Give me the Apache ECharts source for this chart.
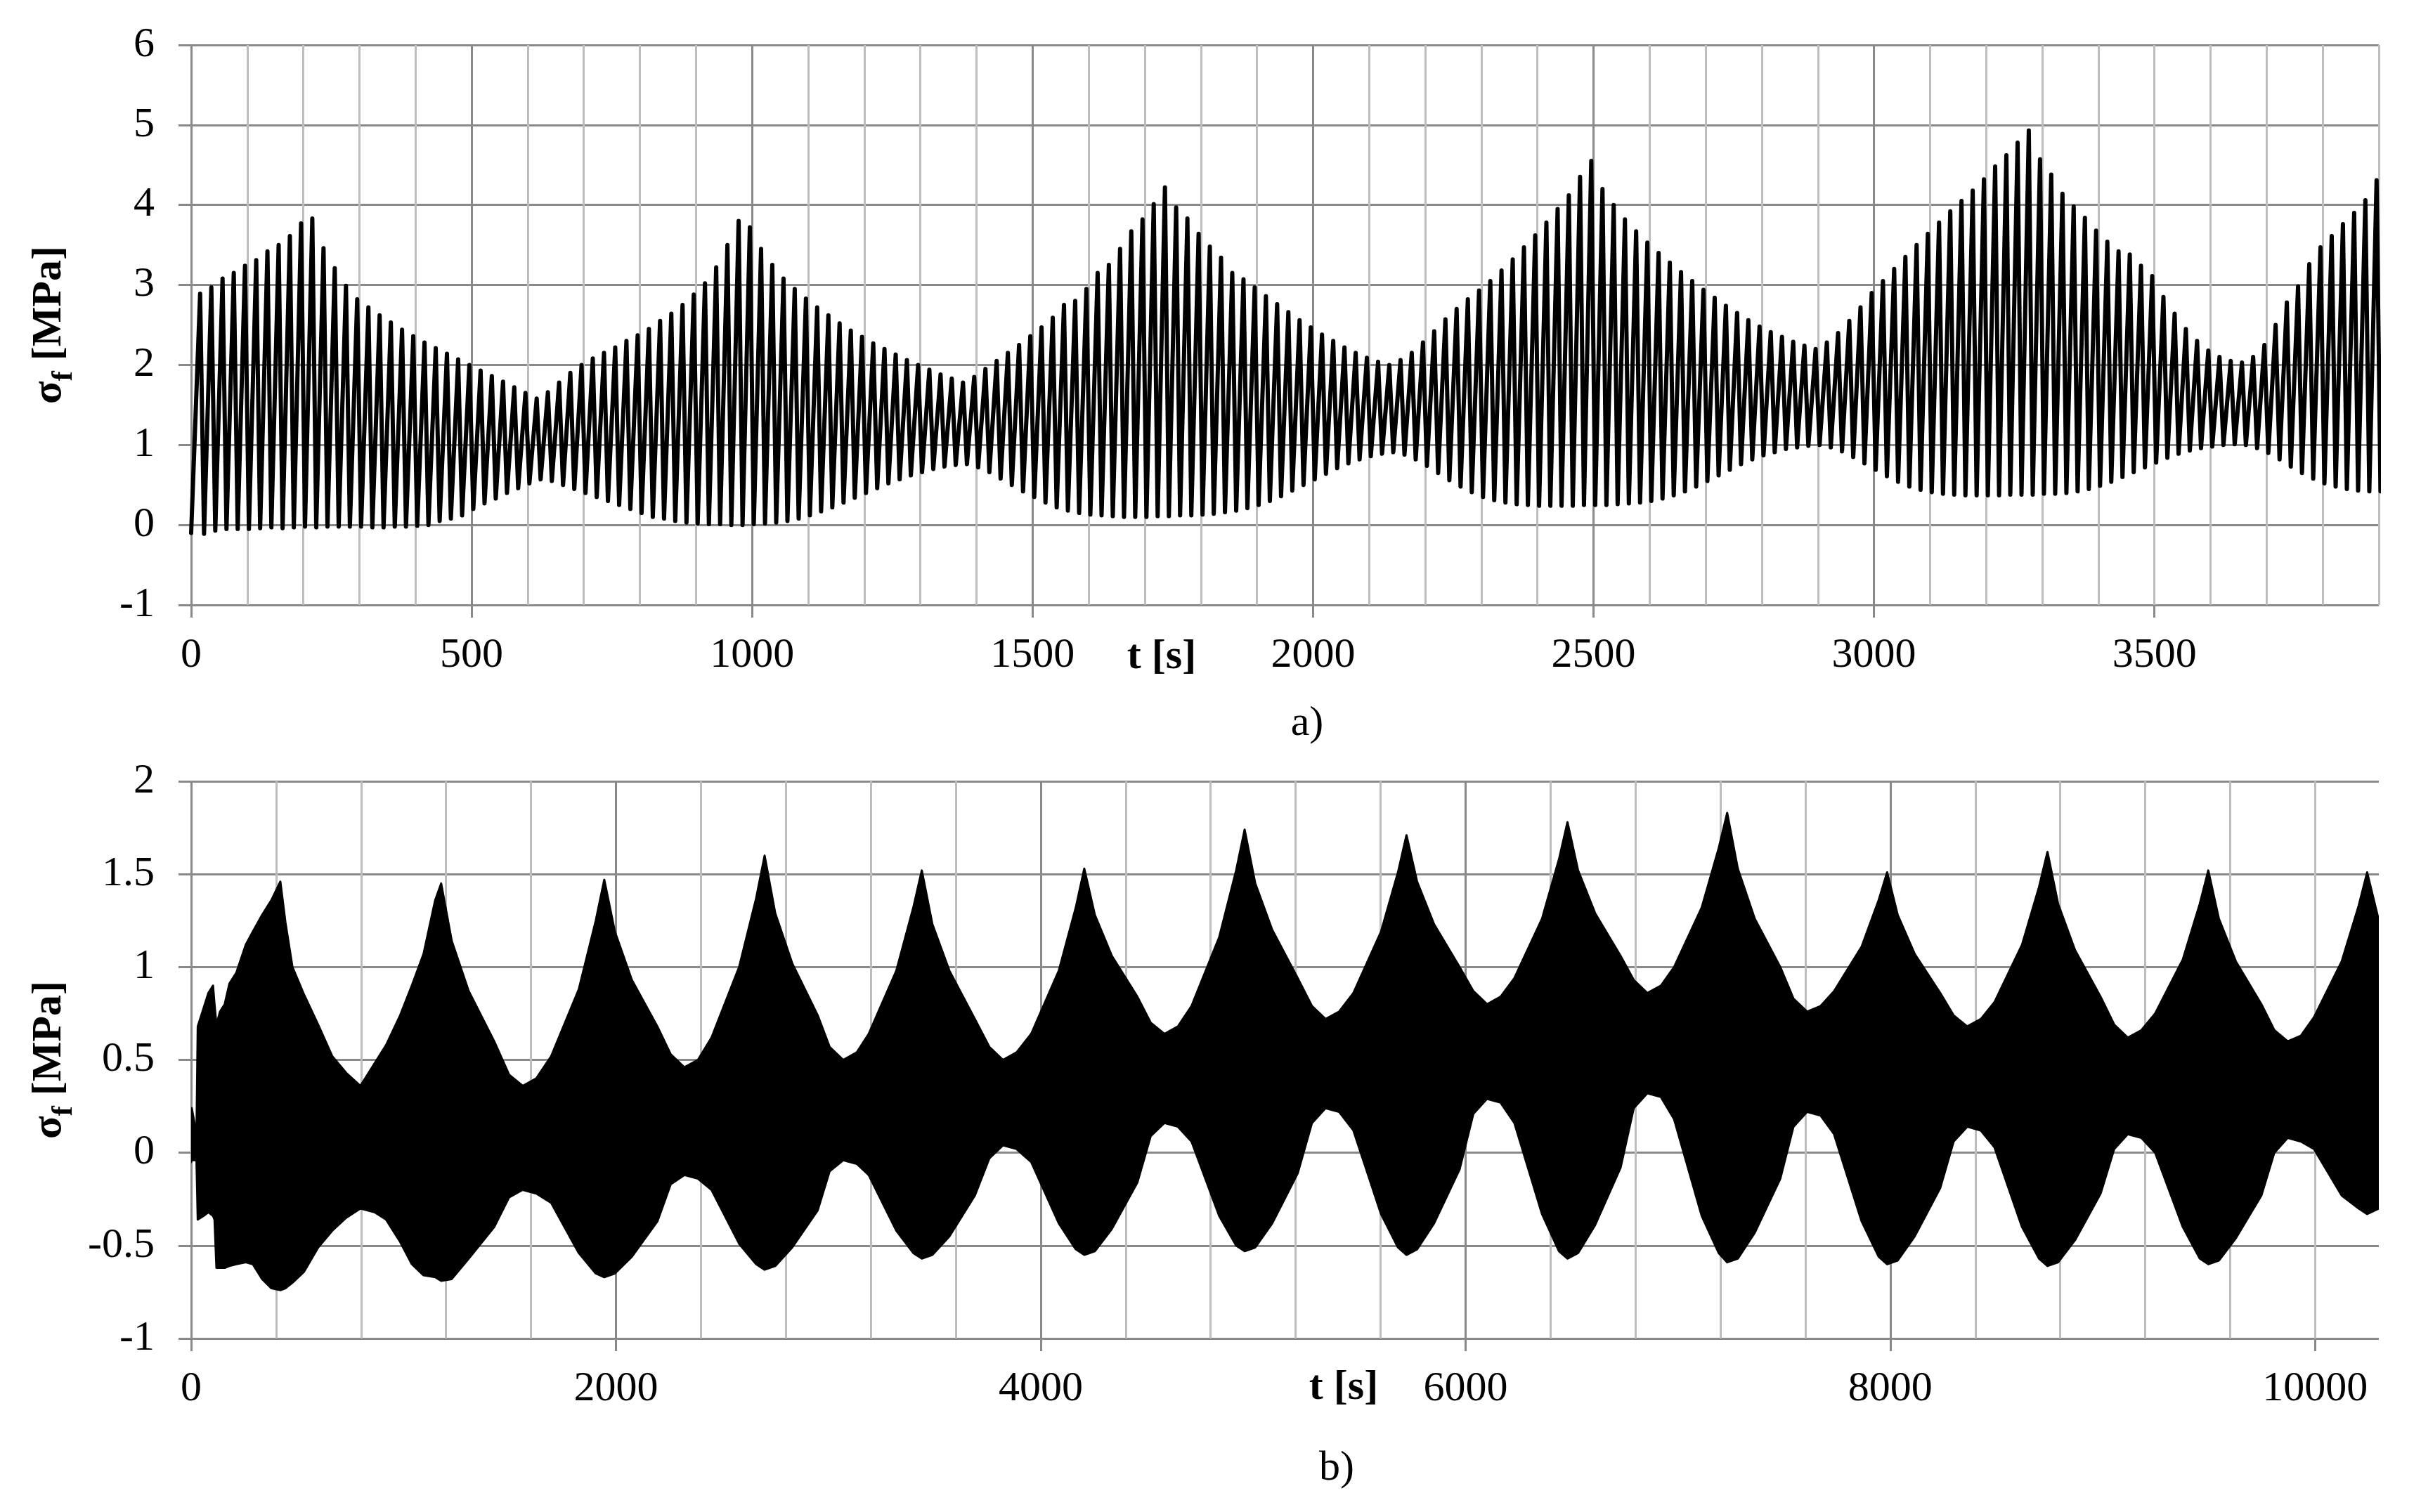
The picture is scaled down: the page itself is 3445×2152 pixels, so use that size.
<!DOCTYPE html>
<html><head><meta charset="utf-8">
<script src="https://cdn.jsdelivr.net/npm/echarts@6/dist/echarts.min.js"></script>
<style>html,body{margin:0;padding:0;background:#fff}#c{width:3445px;height:2152px}</style>
</head><body><div id="c"></div>
<script>
// ---------------- Panel a) : one peak and one trough per 20 s cycle ----------------
const A_T0 = 16;          // time of first peak [s]
const A_PERIOD = 20;      // cycle length [s]
const A_TROUGH_LAG = 7;   // trough follows peak by [s]
const aStart = [0, -0.10];
const aPeaks = [
  2.89,2.97,3.08,3.15,3.24,3.31,3.42,3.50,3.61,3.77,3.83,
  3.46,3.21,2.99,2.82,2.72,2.62,2.53,2.44,2.36,2.28,2.21,2.14,2.07,2.00,1.93,1.86,1.79,1.72,1.65,1.58,
  1.66,1.78,1.90,2.00,2.08,2.15,2.22,2.30,2.37,2.45,2.55,2.64,2.75,2.88,3.02,3.22,3.50,3.80,
  3.72,3.45,3.25,3.08,2.95,2.83,2.72,2.62,2.52,2.43,2.35,2.27,2.20,2.13,2.06,2.00,1.94,1.88,1.83,1.78,
  1.85,1.95,2.05,2.15,2.25,2.36,2.47,2.59,2.75,2.80,2.95,3.15,3.25,3.45,3.67,3.82,4.01,4.22,
  3.97,3.83,3.64,3.48,3.34,3.15,3.07,2.97,2.86,2.76,2.66,2.56,2.47,2.38,2.30,2.22,2.15,2.09,2.04,2.00,
  2.06,2.15,2.28,2.42,2.57,2.70,2.82,2.93,3.05,3.18,3.32,3.47,3.62,3.78,3.95,4.12,4.35,4.55,
  4.20,4.00,3.82,3.67,3.53,3.40,3.28,3.16,3.05,2.94,2.84,2.74,2.65,2.56,2.48,2.41,2.35,2.29,2.24,2.20,
  2.28,2.40,2.55,2.72,2.90,3.05,3.20,3.35,3.50,3.64,3.78,3.92,4.05,4.18,4.32,4.48,4.62,4.78,4.93,
  4.57,4.38,4.14,3.98,3.84,3.68,3.54,3.42,3.38,3.24,3.11,2.85,2.64,2.45,2.30,2.18,2.10,2.05,2.03,2.10,2.25,2.50,
  2.78,2.98,3.26,3.47,3.61,3.76,3.90,4.06,4.31
];
const aTroughs = [
  -0.11,-0.07,-0.05,-0.05,-0.05,-0.04,-0.03,-0.04,-0.03,-0.02,-0.03,-0.02,-0.02,-0.02,-0.02,-0.03,-0.03,-0.02,-0.02,-0.01,0.00,
  0.05,0.08,0.12,0.20,0.27,0.33,0.40,0.46,0.52,0.57,
  0.55,0.50,0.45,0.40,0.35,0.30,0.25,0.20,0.15,0.10,0.08,0.05,0.03,0.02,
  0.01,0.01,0.00,0.00,0.01,0.02,0.03,0.05,0.08,0.12,0.17,
  0.22,0.28,0.34,0.40,0.46,0.52,0.57,0.62,0.66,0.70,0.73,0.75,0.76,
  0.72,0.66,0.58,0.50,0.42,0.35,0.28,0.22,0.18,0.15,0.13,0.12,
  0.11,0.10,0.10,0.10,0.11,0.11,0.12,0.12,0.13,0.14,0.16,0.18,0.21,0.25,
  0.30,0.36,0.43,0.50,0.57,0.64,0.71,0.77,0.82,0.86,0.89,0.91,
  0.88,0.82,0.74,0.65,0.56,0.48,0.41,0.35,0.31,0.28,0.26,0.25,
  0.24,0.24,0.24,0.24,0.25,0.25,0.25,0.26,0.27,0.28,0.30,0.33,0.37,0.42,
  0.48,0.55,0.62,0.69,0.76,0.82,0.87,0.91,0.95,0.97,0.99,1.00,
  0.97,0.92,0.85,0.77,0.69,0.61,0.54,0.48,0.44,0.41,0.39,0.38,
  0.37,0.37,0.37,0.37,0.38,0.38,0.38,0.39,0.39,0.40,0.42,0.45,0.49,0.54,
  0.60,0.66,0.72,0.78,0.84,0.89,0.93,0.96,0.98,1.00,1.01,1.00,
  0.96,0.90,0.82,0.73,0.65,0.58,0.52,0.48,0.45,0.43,0.42,0.42
];

// ---------------- Panel b) : envelope of the dense oscillation ----------------
const bTime = [0,3,25,31,59,81,103,110,119,136,158,180,213,257,290,334,378,420,444,477,532,598,664,730,797,
  863,918,984,1039,1094,1149,1177,1227,1307,1427,1497,1561,1625,
  1695,1825,1905,1945,1995,2075,2195,2258,2322,2386,
  2450,2580,2660,2700,2750,2830,2950,3006,3070,3134,
  3190,3320,3400,3440,3490,3570,3690,3758,3822,3886,
  3955,4085,4165,4205,4255,4335,4455,4518,4582,4646,
  4710,4840,4920,4960,5010,5090,5210,5277,5341,5405,
  5472,5602,5682,5722,5772,5852,5972,6037,6101,6165,
  6230,6360,6440,6480,6530,6610,6730,6792,6856,6920,
  6982,7112,7192,7232,7282,7362,7482,7544,7608,7672,
  7735,7865,7945,7985,8035,8115,8235,8298,8362,8426,
  8490,8620,8700,8740,8790,8870,8990,9054,9118,9182,
  9247,9377,9457,9497,9547,9627,9747,9808,9871,9933,
  9995,10125,10205,10245,10300];
const bUpper = [0.05,0.24,0.10,0.68,0.78,0.86,0.90,0.80,0.69,0.76,0.80,0.91,0.97,1.12,1.19,1.28,1.36,1.46,1.24,1.00,0.85,0.69,0.52,0.43,0.36,
  0.48,0.58,0.74,0.90,1.07,1.36,1.45,1.14,0.87,0.60,0.42,0.36,0.40,
  0.52,0.88,1.25,1.47,1.19,0.93,0.68,0.53,0.46,0.50,
  0.62,1.00,1.37,1.60,1.29,1.02,0.74,0.57,0.50,0.54,
  0.64,0.98,1.32,1.52,1.23,0.98,0.72,0.57,0.50,0.54,
  0.64,0.98,1.32,1.53,1.28,1.06,0.84,0.70,0.64,0.68,
  0.79,1.16,1.52,1.74,1.45,1.20,0.94,0.79,0.72,0.76,
  0.86,1.19,1.51,1.71,1.46,1.23,1.00,0.87,0.80,0.84,
  0.94,1.26,1.58,1.78,1.52,1.29,1.06,0.93,0.86,0.90,
  1.00,1.32,1.64,1.83,1.53,1.26,1.00,0.83,0.76,0.79,
  0.87,1.11,1.36,1.51,1.28,1.07,0.86,0.74,0.68,0.72,
  0.81,1.12,1.43,1.62,1.34,1.09,0.84,0.69,0.62,0.66,
  0.75,1.04,1.34,1.52,1.26,1.03,0.80,0.66,0.60,0.63,
  0.73,1.03,1.33,1.51,1.25];
const bLower = [-0.05,-0.04,-0.04,-0.36,-0.34,-0.32,-0.34,-0.36,-0.62,-0.62,-0.62,-0.61,-0.60,-0.59,-0.60,-0.68,-0.73,-0.74,-0.73,-0.70,-0.64,-0.51,-0.42,-0.35,-0.30,
  -0.32,-0.36,-0.48,-0.60,-0.66,-0.67,-0.69,-0.68,-0.57,-0.40,-0.24,-0.20,-0.22,
  -0.27,-0.54,-0.65,-0.67,-0.65,-0.56,-0.37,-0.17,-0.12,-0.14,
  -0.20,-0.49,-0.60,-0.63,-0.61,-0.51,-0.31,-0.10,-0.04,-0.06,
  -0.12,-0.42,-0.54,-0.57,-0.55,-0.45,-0.23,-0.03,0.04,0.02,
  -0.05,-0.38,-0.52,-0.55,-0.53,-0.41,-0.16,0.09,0.16,0.14,
  0.06,-0.34,-0.50,-0.53,-0.51,-0.38,-0.11,0.16,0.24,0.22,
  0.12,-0.33,-0.51,-0.55,-0.52,-0.38,-0.09,0.21,0.29,0.27,
  0.16,-0.33,-0.53,-0.57,-0.54,-0.39,-0.08,0.24,0.32,0.30,
  0.18,-0.34,-0.54,-0.59,-0.57,-0.43,-0.14,0.14,0.22,0.20,
  0.10,-0.37,-0.56,-0.60,-0.58,-0.45,-0.19,0.06,0.14,0.12,
  0.03,-0.40,-0.57,-0.61,-0.59,-0.47,-0.22,0.02,0.10,0.08,
  0.00,-0.40,-0.57,-0.60,-0.58,-0.46,-0.23,0.00,0.08,0.06,
  0.02,-0.23,-0.30,-0.33,-0.30];

// ---------------- Axis tick labels ----------------
const aXTicks = [0,500,1000,1500,2000,2500,3000,3500];
const bXTicks = [0,2000,4000,6000,8000,10000];

// ---------------- Build ----------------
const FONT = '"Liberation Serif", "Times New Roman", serif';
const MAJOR = '#898989', MINOR = '#bdbdbd', GW = 3;

const aData = [aStart];
for (let k = 0; k < Math.min(aPeaks.length, aTroughs.length); k++) {
  const tp = A_T0 + A_PERIOD * k;
  aData.push([tp, aPeaks[k]]);
  aData.push([tp + A_TROUGH_LAG, aTroughs[k]]);
}

const chart = echarts.init(document.getElementById('c'), null, {renderer: 'canvas'});
const plain = v => String(v);

function minorX(grid, max, interval) {
  return {gridIndex: grid, type: 'value', min: 0, max: max, interval: interval, position: 'bottom',
    axisLine: {show: false}, axisTick: {show: false}, axisLabel: {show: false},
    splitLine: {show: true, showMaxLine: grid === 0, lineStyle: {color: MINOR, width: GW}}};
}
function majorX(grid, max, interval, ticks) {
  return {gridIndex: grid, type: 'value', min: 0, max: max, interval: interval, position: 'bottom', z: 1,
    axisLine: {show: false},
    axisTick: {show: true, customValues: ticks, length: 18, lineStyle: {color: MAJOR, width: GW}},
    axisLabel: {customValues: ticks, formatter: plain, margin: 42, fontSize: 60, fontFamily: FONT, color: '#000'},
    splitLine: {show: true, showMaxLine: false, lineStyle: {color: MAJOR, width: GW}}};
}
const nameRich = {
  s: {fontSize: 60, fontWeight: 'bold', fontFamily: FONT, color: '#000', verticalAlign: 'top', lineHeight: 66},
  f: {fontSize: 42, fontWeight: 'bold', fontFamily: FONT, color: '#000', verticalAlign: 'top', padding: [30, 0, 0, 0]}
};
function yAx(grid, min, max, interval) {
  return {gridIndex: grid, type: 'value', min: min, max: max, interval: interval,
    axisLine: {show: false},
    axisTick: {show: true, length: 18, lineStyle: {color: MAJOR, width: GW}},
    axisLabel: {margin: 52, formatter: plain, fontSize: 60, fontFamily: FONT, color: '#000'},
    splitLine: {show: true, lineStyle: {color: MAJOR, width: GW}},
    name: '{s|σ}{f|f}{s| [MPa]}', nameLocation: 'middle', nameRotate: 90, nameGap: 160,
    nameTextStyle: {rich: nameRich}};
}

const option = {
  animation: false,
  backgroundColor: '#fff',
  grid: [
    {left: 272, top: 64, width: 3113, height: 797},
    {left: 272, top: 1112, width: 3113, height: 793}
  ],
  xAxis: [minorX(0, 3900, 100), majorX(0, 3900, 500, aXTicks), minorX(1, 10300, 400), majorX(1, 10300, 2000, bXTicks)],
  yAxis: [yAx(0, -1, 6, 1), yAx(1, -1, 2, 0.5)],
  series: [
    {type: 'line', xAxisIndex: 0, yAxisIndex: 0, data: aData, showSymbol: false, symbol: 'none',
     clip: true, z: 3, lineStyle: {color: '#000', width: 6, join: 'round', cap: 'round'}},
    {type: 'custom', xAxisIndex: 2, yAxisIndex: 1, data: [[0, 0]], clip: true, z: 3,
     renderItem: function (params, api) {
       const pts = [];
       for (let i = 0; i < bTime.length; i++) pts.push(api.coord([bTime[i], bUpper[i]]));
       for (let i = bTime.length - 1; i >= 0; i--) pts.push(api.coord([bTime[i], bLower[i]]));
       return {type: 'polygon', shape: {points: pts},
         style: {fill: '#000', stroke: '#000', lineWidth: 3, lineJoin: 'round'}};
     }}
  ],
  graphic: [
    {type: 'text', x: 1653, y: 935, style: {text: 't [s]', font: 'bold 60px "Liberation Serif"', fill: '#000', textAlign: 'center', textVerticalAlign: 'middle', align: 'center', verticalAlign: 'middle'}},
    {type: 'text', x: 1860, y: 1030, style: {text: 'a)', font: '60px "Liberation Serif"', fill: '#000', textAlign: 'center', textVerticalAlign: 'middle', align: 'center', verticalAlign: 'middle'}},
    {type: 'text', x: 1912, y: 1975, style: {text: 't [s]', font: 'bold 60px "Liberation Serif"', fill: '#000', textAlign: 'center', textVerticalAlign: 'middle', align: 'center', verticalAlign: 'middle'}},
    {type: 'text', x: 1902, y: 2090, style: {text: 'b)', font: '60px "Liberation Serif"', fill: '#000', textAlign: 'center', textVerticalAlign: 'middle', align: 'center', verticalAlign: 'middle'}}
  ]
};
chart.setOption(option);
</script>
</body></html>
